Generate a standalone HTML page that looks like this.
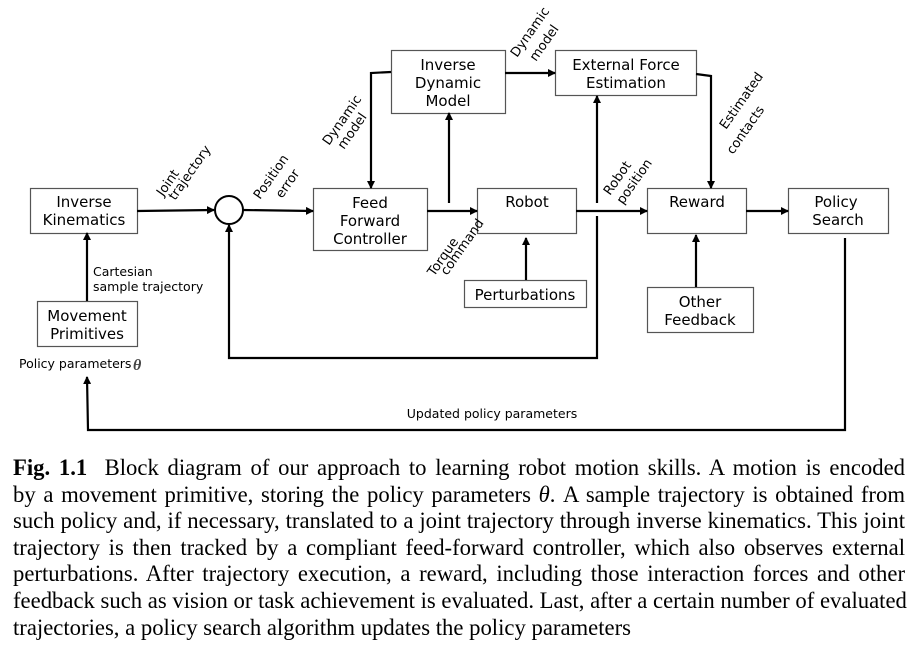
<!DOCTYPE html>
<html><head><meta charset="utf-8"><style>
body{margin:0;background:#fff;width:915px;height:651px;overflow:hidden;position:relative}
svg{position:absolute;left:0;top:0}
.cap{position:absolute;left:13px;width:892px;font-family:"Liberation Serif",serif;font-size:22.7px;line-height:26.6px;top:455px;color:#000}
.cap div{white-space:nowrap;text-align:justify;text-align-last:justify}
.cap div.l{text-align-last:left}
</style></head><body>
<svg width="915" height="651" viewBox="0 0 915 651" font-family="DejaVu Sans, sans-serif">
<defs><marker id="a" markerWidth="8" markerHeight="8" refX="7" refY="4" orient="auto" markerUnits="userSpaceOnUse"><path d="M0,0 L8,4 L0,8z" fill="#000"/></marker></defs>
<g fill="#fff" stroke="#555" stroke-width="1.2">
<rect x="30.5" y="188.5" width="107" height="45"/>
<rect x="37.5" y="301.5" width="100" height="45"/>
<rect x="313.5" y="188.5" width="114" height="62"/>
<rect x="391.5" y="50.5" width="114" height="63"/>
<rect x="555.5" y="50.5" width="141" height="45"/>
<rect x="477.5" y="188.5" width="99" height="45"/>
<rect x="464.5" y="280.5" width="122" height="27"/>
<rect x="647.5" y="188.5" width="99" height="45"/>
<rect x="788.5" y="188.5" width="100" height="45"/>
<rect x="647.5" y="287.5" width="106" height="45"/>
</g>
<circle cx="229" cy="210" r="14" fill="#fff" stroke="#000" stroke-width="2"/>
<g stroke="#000" stroke-width="2.2" fill="none" marker-end="url(#a)">
<path d="M137,211 L214,210"/>
<path d="M243,210 L313,211"/>
<path d="M427,211 L477,211"/>
<path d="M449,203 L449,113"/>
<path d="M391,72 L371,73 L371,188"/>
<path d="M505,73 L555,73"/>
<path d="M576,211 L647,211"/>
<path d="M597,203 L597,96"/>
<path d="M597,216 L597,358 L229,358 L229,225"/>
<path d="M696,74 L711,76 L711,188"/>
<path d="M746,211 L788,211"/>
<path d="M526,280 L526,238"/>
<path d="M696,287 L696,235"/>
<path d="M845,238 L845,430 L88,430 L87,377"/>
<path d="M87,301 L87,233"/>
</g>
<g font-size="15" text-anchor="middle" fill="#000">
<text x="84" y="207">Inverse</text><text x="84" y="225">Kinematics</text>
<text x="87" y="321">Movement</text><text x="87" y="339">Primitives</text>
<text x="370" y="208">Feed</text><text x="370" y="226">Forward</text><text x="370" y="244">Controller</text>
<text x="448" y="70">Inverse</text><text x="448" y="88">Dynamic</text><text x="448" y="106">Model</text>
<text x="626" y="70">External Force</text><text x="626" y="88">Estimation</text>
<text x="527" y="207">Robot</text>
<text x="525" y="300">Perturbations</text>
<text x="697" y="207">Reward</text>
<text x="836" y="207">Policy</text><text x="838" y="225">Search</text>
<text x="700" y="307">Other</text><text x="700" y="325">Feedback</text>
</g>
<g font-size="12.5" fill="#000">
<text x="93" y="276">Cartesian</text><text x="93" y="291">sample  trajectory</text>
<text x="19" y="368" font-size="12.5">Policy parameters</text>
<text x="133" y="370" font-family="Liberation Serif,serif" font-style="italic" font-weight="bold" font-size="16" fill="#444">θ</text>
<text x="492" y="418" text-anchor="middle">Updated policy parameters</text>
<g font-size="13">
<text transform="translate(163,197) rotate(-55)">Joint</text>
<text transform="translate(175,201) rotate(-55)">trajectory</text>
<text transform="translate(260,200) rotate(-55)">Position</text>
<text transform="translate(282,199) rotate(-55)">error</text>
<text transform="translate(329,146) rotate(-55)">Dynamic</text>
<text transform="translate(344,150) rotate(-55)">model</text>
<text transform="translate(517,58) rotate(-55)">Dynamic</text>
<text transform="translate(536,62) rotate(-55)">model</text>
<text transform="translate(434,277) rotate(-55)">Torque</text>
<text transform="translate(447,276) rotate(-55)">command</text>
<text transform="translate(610,196) rotate(-55)">Robot</text>
<text transform="translate(623,205) rotate(-55)">position</text>
<text transform="translate(726,130) rotate(-55)">Estimated</text>
<text transform="translate(733,155) rotate(-55)">contacts</text>
</g>
</g>
</svg>
<div class="cap">
<div><b>Fig. 1.1</b>&nbsp; Block diagram of our approach to learning robot motion skills. A motion is encoded</div>
<div>by a movement primitive, storing the policy parameters <i>θ</i>. A sample trajectory is obtained from</div>
<div>such policy and, if necessary, translated to a joint trajectory through inverse kinematics. This joint</div>
<div>trajectory is then tracked by a compliant feed-forward controller, which also observes external</div>
<div>perturbations. After trajectory execution, a reward, including those interaction forces and other</div>
<div>feedback such as vision or task achievement is evaluated. Last, after a certain number of evaluated</div>
<div class="l">trajectories, a policy search algorithm updates the policy parameters</div>
</div>
</body></html>
